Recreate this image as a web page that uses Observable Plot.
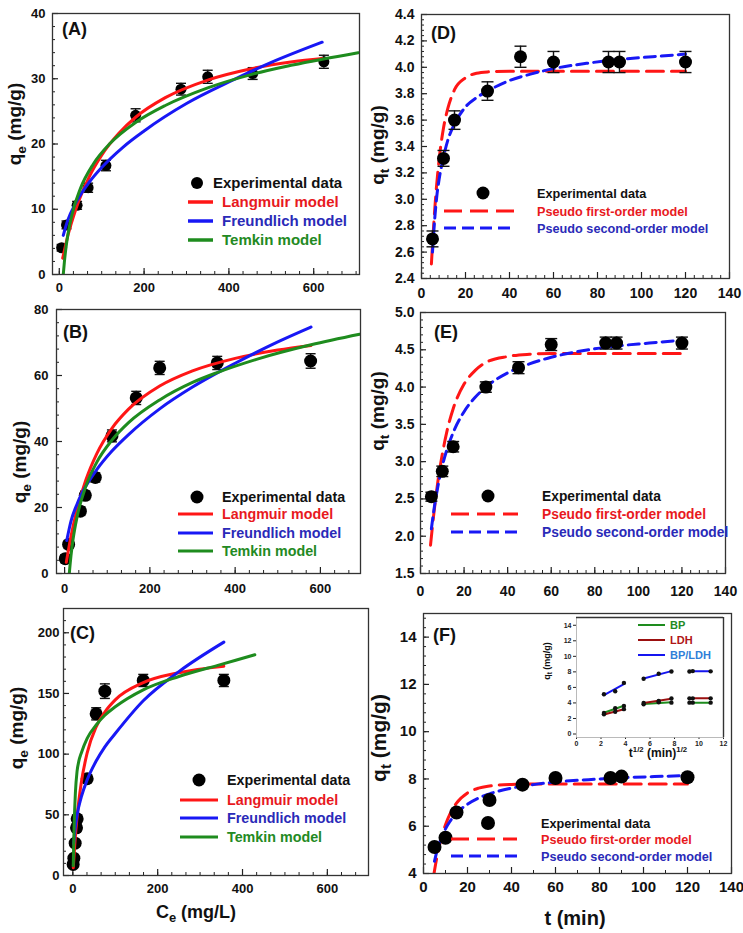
<!DOCTYPE html>
<html>
<head>
<meta charset="utf-8">
<script src="https://cdn.jsdelivr.net/npm/d3@7"></script>
<script src="https://cdn.jsdelivr.net/npm/@observablehq/plot@0.6"></script>
<style>
  body { margin: 0; background: #fff; }
  #fig { position: relative; width: 743px; height: 933px; overflow: hidden; background: #fff; }
  #fig svg { position: absolute; left: 0; top: 0; }
</style>
</head>
<body>
<div id="fig"></div>
<script>
// ---------- Isotherm data (A: BP, B: LDH, C: BP/LDH) ----------
const isoA_Ce  = [5.5, 17, 42, 68, 110, 180, 287, 350, 456, 624];
const isoA_qe  = [4.1, 7.6, 10.6, 13.3, 16.7, 24.4, 28.4, 30.3, 30.8, 32.6];
const isoA_err = [0.5, 0.6, 0.6, 0.7, 0.8, 1.0, 0.9, 1.0, 0.9, 1.0];
const isoA_langCe = [8, 20, 40, 70, 100, 140, 180, 250, 350, 450, 550, 620];
const isoA_langQ  = [2.5, 5.9, 10.2, 14.9, 18.3, 21.6, 24.1, 27.1, 29.8, 31.5, 32.6, 33.1];
const isoA_freuCe = [9.4, 20, 40, 70, 100, 150, 200, 300, 400, 500, 620];
const isoA_freuQ  = [6.0, 8.3, 11.1, 14.1, 16.4, 19.5, 22.0, 26.2, 29.5, 32.5, 35.6];
const isoA_temkCe = [9.4, 12, 15, 20, 30, 50, 80, 120, 180, 250, 350, 450, 550, 705];
const isoA_temkQ  = [0, 1.9, 3.7, 6.0, 9.2, 13.2, 16.9, 20.1, 23.3, 25.9, 28.6, 30.6, 32.1, 34.0];

const isoB_Ce  = [1.6, 9.4, 37, 48.5, 72, 111, 168, 223, 358, 577];
const isoB_qe  = [4.5, 8.8, 18.9, 23.7, 29.1, 41.7, 53.2, 62.3, 63.8, 64.4];
const isoB_err = [1.2, 1.2, 1.3, 1.3, 1.4, 1.8, 2.0, 2.0, 2.0, 2.2];
const isoB_langCe = [4, 15, 30, 50, 75, 111, 150, 223, 300, 400, 500, 578];
const isoB_langQ  = [3.4, 11.3, 19.8, 28.4, 36.2, 44.0, 49.8, 56.8, 61.4, 65.2, 67.7, 69.1];
const isoB_freuCe = [5, 15, 30, 50, 75, 111, 150, 223, 300, 400, 500, 578];
const isoB_freuQ  = [10, 15.9, 21.3, 26.5, 31.4, 37.1, 42.1, 49.9, 56.5, 63.7, 70.2, 74.7];
const isoB_temkCe = [11, 15, 20, 30, 50, 75, 111, 150, 223, 300, 358, 450, 578, 692];
const isoB_temkQ  = [0, 5.4, 10.5, 17.6, 26.5, 33.6, 40.4, 45.7, 52.6, 57.9, 60.9, 64.9, 69.3, 72.5];

const isoC_Ce  = [0.8, 2.4, 5.5, 8.7, 10.2, 33.8, 55, 75.5, 166, 356];
const isoC_qe  = [9.1, 14.3, 26.6, 39.3, 46.7, 79.7, 133.2, 151.9, 160.7, 160.7];
const isoC_err = [2, 2, 2, 3, 3, 3, 5, 6, 5, 5];
const isoC_langCe = [1, 5, 10, 20, 33.8, 55, 75.5, 100, 166, 250, 356];
const isoC_langQ  = [6.3, 27.6, 48.3, 76.6, 101, 122.5, 134.7, 144.7, 158.9, 167.1, 172.5];
const isoC_freuCe = [2, 5, 10, 20, 33.8, 55, 75.5, 100, 166, 250, 356];
const isoC_freuQ  = [26, 37.5, 49.7, 64.7, 78.8, 94.3, 106, 117, 144, 168, 192.3];
const isoC_temkCe = [1, 3, 6, 10, 14, 20, 33.8, 55, 75.5, 100, 166, 250, 350, 429];
const isoC_temkQ  = [8, 40, 68, 86, 94, 101, 113, 124, 132, 139, 153, 164, 174, 181.9];

// ---------- Kinetic data (D: BP, E: LDH, F: BP/LDH) ----------
const kinTime = [5, 10, 15, 30, 45, 60, 85, 90, 120];
const kinD_q   = [2.70, 3.31, 3.60, 3.82, 4.08, 4.04, 4.04, 4.04, 4.04];
const kinD_err = [0.06, 0.06, 0.07, 0.07, 0.08, 0.08, 0.08, 0.08, 0.08];
const kinE_q   = [2.53, 2.87, 3.20, 4.00, 4.26, 4.57, 4.59, 4.59, 4.59];
const kinE_err = [0.06, 0.07, 0.07, 0.07, 0.08, 0.08, 0.08, 0.08, 0.08];
const kinF_q   = [5.12, 5.51, 6.58, 7.11, 7.76, 8.04, 8.04, 8.10, 8.07];

const kinD_pfoT = [4.5, 6, 8, 10, 12, 15, 20, 25, 30, 40, 60, 90, 120];
const kinD_pfoQ = [2.51, 2.92, 3.30, 3.54, 3.69, 3.83, 3.92, 3.955, 3.965, 3.97, 3.97, 3.97, 3.97];
const kinD_psoT = [5, 6, 7, 8, 10, 12, 15, 20, 25, 30, 40, 50, 60, 75, 90, 105, 120];
const kinD_psoQ = [2.60, 2.85, 3.03, 3.15, 3.32, 3.45, 3.57, 3.70, 3.77, 3.82, 3.90, 3.95, 3.99, 4.03, 4.06, 4.08, 4.10];

const kinE_pfoT = [4.6, 6, 8, 10, 12, 15, 20, 25, 30, 40, 50, 60, 120];
const kinE_pfoQ = [1.88, 2.27, 2.74, 3.10, 3.39, 3.71, 4.04, 4.22, 4.33, 4.41, 4.44, 4.45, 4.45];
const kinE_psoT = [5, 6, 8, 10, 12, 15, 20, 25, 30, 40, 50, 60, 75, 90, 105, 120];
const kinE_psoQ = [2.10, 2.32, 2.67, 2.94, 3.15, 3.39, 3.67, 3.86, 4.00, 4.19, 4.31, 4.40, 4.49, 4.55, 4.59, 4.63];

const kinF_pfoT = [4.6, 6, 8, 10, 12, 15, 20, 25, 30, 40, 50, 120];
const kinF_pfoQ = [3.9, 4.64, 5.46, 6.06, 6.51, 6.98, 7.41, 7.61, 7.70, 7.77, 7.79, 7.79];
const kinF_psoT = [5, 6, 8, 10, 12, 15, 20, 25, 30, 40, 50, 60, 75, 90, 105, 120];
const kinF_psoQ = [4.52, 4.90, 5.48, 5.89, 6.20, 6.55, 6.93, 7.19, 7.37, 7.61, 7.76, 7.87, 7.97, 8.05, 8.10, 8.14];

// ---------- Intraparticle diffusion inset ----------
const sqrtTime  = [2.24, 3.16, 3.87, 5.48, 6.71, 7.75, 9.22, 9.49, 10.95];
const diffStage = [1, 1, 1, 2, 2, 2, 3, 3, 3];
const insetSeries = ["BP", "LDH", "BP/LDH"];

// ---------- Tick values ----------
const ticksIsoX = [0, 200, 400, 600];
const ticksA_Y = [0, 10, 20, 30, 40];
const ticksB_Y = [0, 20, 40, 60, 80];
const ticksC_Y = [0, 50, 100, 150, 200];
const ticksKinX = [0, 20, 40, 60, 80, 100, 120, 140];
const ticksD_Y = [2.4, 2.6, 2.8, 3.0, 3.2, 3.4, 3.6, 3.8, 4.0, 4.2, 4.4];
const ticksE_Y = [1.5, 2.0, 2.5, 3.0, 3.5, 4.0, 4.5, 5.0];
const ticksF_Y = [4, 6, 8, 10, 12, 14];
const ticksInsetX = [0, 2, 4, 6, 8, 10, 12];
const ticksInsetY = [0, 2, 4, 6, 8, 10, 12, 14];

// ---------- Styling ----------
const FONT = "'Liberation Sans', Arial, Helvetica, sans-serif";
const RED = "#ff1616", BLUE = "#1818f5", GREEN = "#1e8c1e";
const RED_T = "#e8191e", BLUE_T = "#2a2ab8", GREEN_T = "#238a23";
const W = 743, H = 933;
const fig = document.getElementById("fig");

const rowsOf = (xs, ys, es) => xs.map((x, i) => ({x, y: ys[i], e: es ? es[i] : 0}));
const curveOf = (xs, ys) => xs.map((x, i) => ({x, y: ys[i]}));
const capSymbol = {draw(ctx, size) { const r = Math.sqrt(size / Math.PI); ctx.moveTo(-r, 0); ctx.lineTo(r, 0); }};
const within = (vals, [a, b]) => vals.filter(v => v >= a - 1e-9 && v <= b + 1e-9);

function panel(cfg) {
  const fw = cfg.right - cfg.left, fh = cfg.bottom - cfg.top;
  const minorX = within(d3.range(cfg.xMinor[0], cfg.xDomain[1] + 1e-6, cfg.xMinor[1]), cfg.xDomain);
  const minorY = within(d3.range(cfg.yMinor[0], cfg.yDomain[1] + 1e-6, cfg.yMinor[1]), cfg.yDomain);
  const svg = Plot.plot({
    width: W, height: H,
    marginLeft: cfg.left, marginRight: W - cfg.right,
    marginTop: cfg.top, marginBottom: H - cfg.bottom,
    x: {domain: cfg.xDomain, label: null},
    y: {domain: cfg.yDomain, label: null},
    style: {background: "none", overflow: "visible", fontFamily: FONT, fontWeight: "bold", color: "#111"},
    marks: [
      Plot.ruleX(minorX, {stroke: "#222", strokeWidth: 1, insetTop: fh - 3}),
      Plot.ruleX(cfg.xTicks, {stroke: "#222", strokeWidth: 1.2, insetTop: fh - 6}),
      Plot.ruleY(minorY, {stroke: "#222", strokeWidth: 1, insetRight: fw - 3}),
      Plot.ruleY(cfg.yTicks, {stroke: "#222", strokeWidth: 1.2, insetRight: fw - 6}),
      Plot.axisX(cfg.xTicks, {tickSize: 0, tickPadding: cfg.xPad, fontSize: cfg.font, fontWeight: "bold", tickFormat: cfg.xFmt || (d => String(d))}),
      Plot.axisY(cfg.yTicks, {tickSize: 0, tickPadding: cfg.yPad, fontSize: cfg.font, fontWeight: "bold", tickFormat: cfg.yFmt || (d => String(d))}),
      ...cfg.marks,
      Plot.frame({stroke: "#333", strokeWidth: 1.3})
    ]
  });
  fig.append(svg);
  return d3.select(svg);
}

function errorMarks(rows, r, capR) {
  return [
    Plot.ruleX(rows, {x: "x", y1: d => d.y - d.e, y2: d => d.y + d.e, stroke: "#111", strokeWidth: 1.4}),
    Plot.dot(rows, {x: "x", y: d => d.y + d.e, symbol: capSymbol, r: capR, stroke: "#111", strokeWidth: 1.4}),
    Plot.dot(rows, {x: "x", y: d => d.y - d.e, symbol: capSymbol, r: capR, stroke: "#111", strokeWidth: 1.4}),
    Plot.dot(rows, {x: "x", y: "y", r, fill: "#000"})
  ];
}

function isoLines(lang, freu, temk) {
  const o = {x: "x", y: "y", strokeWidth: 3, curve: "monotone-x", clip: true};
  return [
    Plot.line(lang, {...o, stroke: RED}),
    Plot.line(freu, {...o, stroke: BLUE}),
    Plot.line(temk, {...o, stroke: GREEN})
  ];
}

function kinLines(pfo, pso) {
  return [
    Plot.line(pfo, {x: "x", y: "y", stroke: RED, strokeWidth: 3, strokeDasharray: "17,8", curve: "monotone-x", clip: true}),
    Plot.line(pso, {x: "x", y: "y", stroke: BLUE, strokeWidth: 3, strokeDasharray: "11,6", curve: "monotone-x", clip: true})
  ];
}

function panelLabel(sel, x, y, t) {
  sel.append("text").attr("x", x).attr("y", y).attr("text-anchor", "start").attr("font-family", FONT)
    .attr("font-weight", "bold").attr("font-size", 18).attr("fill", "#111").text(t);
}

function qTitle(sel, x, y, sub, size) {
  const t = sel.append("text").attr("transform", `translate(${x},${y}) rotate(-90)`)
    .attr("text-anchor", "middle").attr("font-family", FONT).attr("font-weight", "bold")
    .attr("font-size", size).attr("fill", "#111");
  t.append("tspan").text("q");
  t.append("tspan").attr("font-size", "72%").attr("dy", "0.35em").text(sub);
  t.append("tspan").attr("dy", "-0.25em").text(" (mg/g)");
  return t;
}

function legend(sel, s) {
  const g = sel.append("g").attr("font-family", FONT).attr("font-weight", "bold")
    .attr("font-size", s.size).attr("text-anchor", "start");
  g.append("circle").attr("cx", s.dot[0]).attr("cy", s.dot[1]).attr("r", s.r).attr("fill", "#000");
  g.append("text").attr("x", s.expX).attr("y", s.dot[1]).attr("dy", "0.36em").attr("fill", "#111").text("Experimental data");
  s.items.forEach((it, i) => {
    const y = s.rows[i];
    g.append("line").attr("x1", s.line[0]).attr("x2", s.line[1]).attr("y1", y).attr("y2", y)
      .attr("stroke", it.stroke).attr("stroke-width", s.lw).attr("stroke-dasharray", it.dash || null);
    g.append("text").attr("x", s.textX).attr("y", y).attr("dy", "0.36em").attr("fill", it.color).text(it.label);
  });
}

const isoItems = [
  {label: "Langmuir model", stroke: RED, color: RED_T},
  {label: "Freundlich model", stroke: BLUE, color: BLUE_T},
  {label: "Temkin model", stroke: GREEN, color: GREEN_T}
];
const kinItems = [
  {label: "Pseudo first-order model", stroke: RED, color: RED_T, dash: "18,8"},
  {label: "Pseudo second-order model", stroke: BLUE, color: BLUE_T, dash: "12,6"}
];

// ---------- (A) ----------
const pA = panel({
  left: 52, right: 359, top: 13, bottom: 274,
  xDomain: [-16, 708], yDomain: [0, 40],
  xTicks: ticksIsoX, yTicks: ticksA_Y, xMinor: [0, 200 / 6], yMinor: [0, 2],
  font: 13, xPad: 8, yPad: 7,
  marks: [
    ...errorMarks(rowsOf(isoA_Ce, isoA_qe, isoA_err), 5.5, 5),
    ...isoLines(curveOf(isoA_langCe, isoA_langQ), curveOf(isoA_freuCe, isoA_freuQ), curveOf(isoA_temkCe, isoA_temkQ))
  ]
});
panelLabel(pA, 62, 35, "(A)");
qTitle(pA, 21, 124, "e", 19);
legend(pA, {dot: [197, 183], r: 6, expX: 213, textX: 222, line: [188, 213], rows: [202, 221, 240], size: 15, lw: 3.5, items: isoItems});

// ---------- (B) ----------
const pB = panel({
  left: 56, right: 360, top: 309, bottom: 573,
  xDomain: [-19, 694], yDomain: [0, 80],
  xTicks: ticksIsoX, yTicks: ticksB_Y, xMinor: [0, 200 / 6], yMinor: [0, 4],
  font: 13, xPad: 10, yPad: 8,
  marks: [
    ...errorMarks(rowsOf(isoB_Ce, isoB_qe, isoB_err), 6.5, 5),
    ...isoLines(curveOf(isoB_langCe, isoB_langQ), curveOf(isoB_freuCe, isoB_freuQ), curveOf(isoB_temkCe, isoB_temkQ))
  ]
});
panelLabel(pB, 63, 338, "(B)");
qTitle(pB, 26, 462, "e", 19);
legend(pB, {dot: [197, 497], r: 6.5, expX: 222, textX: 222, line: [178, 213], rows: [514, 533, 551], size: 14.3, lw: 3, items: isoItems});

// ---------- (C) ----------
const pC = panel({
  left: 63, right: 368, top: 608, bottom: 875,
  xDomain: [-22, 697], yDomain: [0, 220],
  xTicks: ticksIsoX, yTicks: ticksC_Y, xMinor: [0, 200 / 6], yMinor: [0, 10],
  font: 13, xPad: 8, yPad: 4,
  marks: [
    ...errorMarks(rowsOf(isoC_Ce, isoC_qe, isoC_err), 6.5, 5),
    ...isoLines(curveOf(isoC_langCe, isoC_langQ), curveOf(isoC_freuCe, isoC_freuQ), curveOf(isoC_temkCe, isoC_temkQ))
  ]
});
panelLabel(pC, 70, 639, "(C)");
qTitle(pC, 23, 728, "e", 19);
legend(pC, {dot: [199, 780], r: 6.5, expX: 227, textX: 227, line: [180, 218], rows: [800, 818, 837], size: 14.3, lw: 3, items: isoItems});
{
  const t = pC.append("text").attr("x", 196).attr("y", 918).attr("text-anchor", "middle")
    .attr("font-family", FONT).attr("font-weight", "bold").attr("font-size", 18).attr("fill", "#111");
  t.append("tspan").text("C");
  t.append("tspan").attr("font-size", "72%").attr("dy", "0.3em").text("e");
  t.append("tspan").attr("dy", "-0.22em").text(" (mg/L)");
}

// ---------- (D) ----------
const pD = panel({
  left: 421, right: 729, top: 14, bottom: 278,
  xDomain: [0, 140], yDomain: [2.4, 4.4],
  xTicks: ticksKinX, yTicks: ticksD_Y, xMinor: [0, 4], yMinor: [2.4, 0.04],
  font: 14, xPad: 10, yPad: 7, yFmt: d3.format(".1f"),
  marks: [
    ...kinLines(curveOf(kinD_pfoT, kinD_pfoQ), curveOf(kinD_psoT, kinD_psoQ)),
    ...errorMarks(rowsOf(kinTime, kinD_q, kinD_err), 6.5, 6)
  ]
});
panelLabel(pD, 431, 39, "(D)");
qTitle(pD, 384, 145, "t", 19);
legend(pD, {dot: [483, 193], r: 6.5, expX: 537, textX: 537, line: [444, 514], rows: [211, 228], size: 12.7, lw: 3, items: kinItems});

// ---------- (E) ----------
const pE = panel({
  left: 420, right: 725, top: 312, bottom: 573,
  xDomain: [0, 140], yDomain: [1.5, 5.0],
  xTicks: ticksKinX, yTicks: ticksE_Y, xMinor: [0, 4], yMinor: [1.5, 0.1],
  font: 14, xPad: 13, yPad: 6, yFmt: d3.format(".1f"),
  marks: [
    ...kinLines(curveOf(kinE_pfoT, kinE_pfoQ), curveOf(kinE_psoT, kinE_psoQ)),
    ...errorMarks(rowsOf(kinTime, kinE_q, kinE_err), 6.5, 6)
  ]
});
panelLabel(pE, 434, 338, "(E)");
qTitle(pE, 384, 411, "t", 19);
legend(pE, {dot: [488, 496], r: 6.5, expX: 542, textX: 542, line: [451, 518], rows: [514, 532], size: 13.8, lw: 3, items: kinItems});

// ---------- (F) ----------
const pF = panel({
  left: 423, right: 731, top: 613, bottom: 873,
  xDomain: [0, 140], yDomain: [4, 15],
  xTicks: ticksKinX, yTicks: ticksF_Y, xMinor: [0, 10], yMinor: [4, 0.4],
  font: 15, xPad: 8, yPad: 7,
  marks: [
    ...kinLines(curveOf(kinF_pfoT, kinF_pfoQ), curveOf(kinF_psoT, kinF_psoQ)),
    Plot.dot(rowsOf(kinTime, kinF_q), {x: "x", y: "y", r: 7, fill: "#000"})
  ]
});
panelLabel(pF, 433, 641, "(F)");
qTitle(pF, 386, 738, "t", 21);
legend(pF, {dot: [488, 823], r: 7, expX: 541, textX: 541, line: [451, 517], rows: [839, 856], size: 12.7, lw: 3, items: kinItems});
pF.append("text").attr("x", 575).attr("y", 925).attr("text-anchor", "middle")
  .attr("font-family", FONT).attr("font-weight", "bold").attr("font-size", 20).attr("fill", "#111").text("t (min)");

// ---------- Inset: intraparticle diffusion ----------
const insetRows = [];
[kinD_q, kinE_q, kinF_q].forEach((qs, s) => {
  qs.forEach((q, i) => insetRows.push({x: sqrtTime[i], y: q, stage: diffStage[i], series: insetSeries[s]}));
});
const insetColor = {"BP": GREEN, "LDH": "#9b0f0f", "BP/LDH": "#1515f0"};
const inset = Plot.plot({
  width: W, height: H,
  marginLeft: 576, marginRight: W - 723, marginTop: 617, marginBottom: H - 737,
  x: {domain: [0, 12], label: null},
  y: {domain: [-0.45, 15], label: null},
  style: {background: "none", overflow: "visible", fontFamily: FONT, fontWeight: "bold", color: "#222"},
  marks: [
    Plot.axisX(ticksInsetX, {tickSize: 2, tickPadding: 2, fontSize: 7, fontWeight: "bold"}),
    Plot.axisY(ticksInsetY, {tickSize: 3, tickPadding: 2, fontSize: 7, fontWeight: "bold"}),
    Plot.frame({stroke: "#aaa", strokeWidth: 0.8}),
    Plot.ruleY([15], {stroke: "#333", strokeWidth: 1.4}),
    Plot.ruleX([12], {stroke: "#333", strokeWidth: 1.4}),
    ...insetSeries.map(s => Plot.linearRegressionY(insetRows.filter(d => d.series === s),
      {x: "x", y: "y", z: "stage", stroke: insetColor[s], strokeWidth: 2, ci: 0})),
    Plot.dot(insetRows, {x: "x", y: "y", r: 2.2, fill: "#111"})
  ]
});
fig.append(inset);
{
  const s = d3.select(inset);
  const g = s.append("g").attr("font-family", FONT).attr("font-weight", "bold")
    .attr("font-size", 11).attr("text-anchor", "start");
  [["BP", GREEN, GREEN_T, 625], ["LDH", "#9b0f0f", "#b01616", 640], ["BP/LDH", "#1515f0", "#2f7fd8", 655]].forEach(([lab, c, tc, y]) => {
    g.append("line").attr("x1", 638).attr("x2", 665).attr("y1", y).attr("y2", y).attr("stroke", c).attr("stroke-width", 2);
    g.append("text").attr("x", 670).attr("y", y).attr("dy", "0.36em").attr("fill", tc).text(lab);
  });
  qTitle(s, 550, 661, "t", 9);
  const t = s.append("text").attr("x", 658).attr("y", 757).attr("text-anchor", "middle")
    .attr("font-family", FONT).attr("font-weight", "bold").attr("font-size", 12).attr("fill", "#111");
  t.append("tspan").text("t");
  t.append("tspan").attr("font-size", "65%").attr("dy", "-0.6em").text("1/2");
  t.append("tspan").attr("dy", "0.4em").text(" (min)");
  t.append("tspan").attr("font-size", "65%").attr("dy", "-0.6em").text("1/2");
}
</script>
</body>
</html>
